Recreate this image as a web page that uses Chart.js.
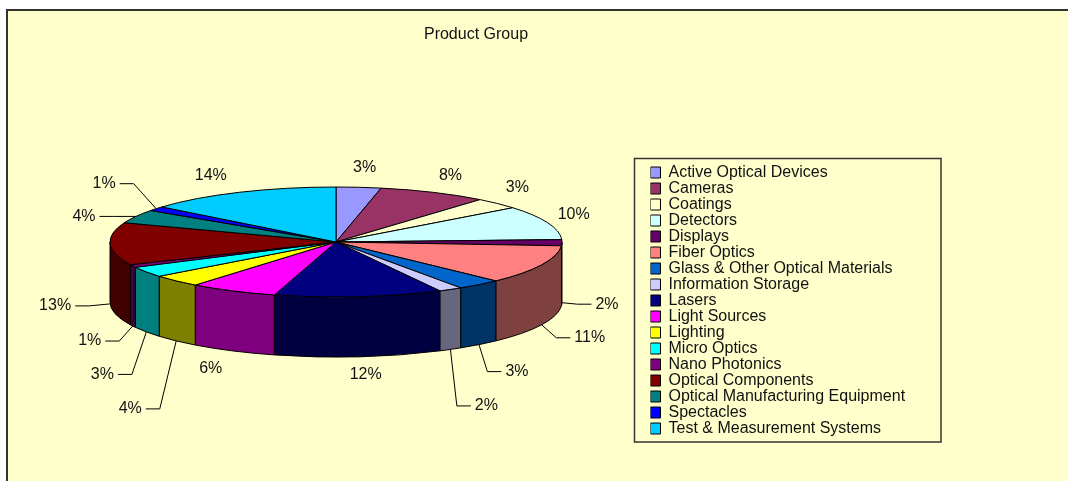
<!DOCTYPE html>
<html>
<head>
<meta charset="utf-8">
<title>Product Group</title>
<script src="https://cdn.jsdelivr.net/npm/chart.js@4"></script>
<style>
  html, body { margin: 0; padding: 0; background: #ffffff; }
  canvas { display: block; }
</style>
</head>
<body>
<canvas id="pieChart" width="1068" height="481"></canvas>
<script>
var categories = ["Active Optical Devices", "Cameras", "Coatings", "Detectors", "Displays", "Fiber Optics", "Glass & Other Optical Materials", "Information Storage", "Lasers", "Light Sources", "Lighting", "Micro Optics", "Nano Photonics", "Optical Components", "Optical Manufacturing Equipment", "Spectacles", "Test & Measurement Systems"];
var shares = [3.2, 7.8, 3.3, 10, 1.8, 11.4, 3.2, 1.7, 12, 6.3, 3.6, 3.1, 0.8, 12.5, 4, 1.3, 14];
var shareLabels = ["3%", "8%", "3%", "10%", "2%", "11%", "3%", "2%", "12%", "6%", "4%", "3%", "1%", "13%", "4%", "1%", "14%"];
var sliceColors = ["#9999FF", "#993366", "#FFFFCC", "#CCFFFF", "#660066", "#FF8080", "#0066CC", "#CCCCFF", "#000080", "#FF00FF", "#FFFF00", "#00FFFF", "#800080", "#800000", "#008080", "#0000FF", "#00CCFF"];

// label centre, relative to the point on the rim under the middle of the slice
var labelOffsets = [[6, -19.5], [17, -17], [20, -15.5], [26, -8], [45, 1.5], [48, 13], [38, 27], [36, 56.5], [7, 18], [-22, 18], [-46, 68], [-44, 42.5], [-43, 15], [-55, 2], [-52, 0], [-52, -25], [-29, -17]];
var hasLeader = [false, false, false, false, true, true, true, true, false, false, true, true, true, true, true, true, false];

var PIE_RADIUS = 226;
var PIE_FLATTEN = 55 / 226;
var PIE_DEPTH = 60;
var FONT = "'Liberation Sans', Arial, sans-serif";
var TEXT_COLOR = "#111111";
var LEGEND_FRAME = { x: 634.5, y: 158.5, w: 306.5, h: 283.5 };

function halfShade(hex) {
  var n = parseInt(hex.slice(1), 16);
  return "rgb(" + ((n >> 16) >> 1) + "," + (((n >> 8) & 255) >> 1) + "," + ((n & 255) >> 1) + ")";
}

var pie3d = {
  id: "pie3d",

  // paper colour with the dark top and left edge
  beforeDraw: function (chart) {
    var ctx = chart.ctx;
    ctx.save();
    ctx.fillStyle = "#ffffff";
    ctx.fillRect(0, 0, chart.width, chart.height);
    ctx.fillStyle = "#FFFFCC";
    ctx.fillRect(6, 9, chart.width - 6, chart.height - 9);
    ctx.fillStyle = "#333333";
    ctx.fillRect(6, 9, chart.width - 6, 2);
    ctx.fillRect(6, 9, 2, chart.height - 9);
    ctx.restore();
  },

  // legend and title do not sit where the layout would put them
  afterLayout: function (chart) {
    var legend = chart.legend;
    legend.left = 650.5;
    legend.right = legend.left + legend.width;
    legend.top = 164.5;
    legend.bottom = legend.top + legend.height;
    chart.titleBlock.left = 376;
    chart.titleBlock.right = 576;
  },

  // draw slices flattened, side wall first
  beforeDatasetDraw: function (chart, args) {
    var ctx = chart.ctx;
    var arcs = args.meta.data;
    ctx.save();
    ctx.lineJoin = "round";
    ctx.strokeStyle = "#000000";
    ctx.lineWidth = 1;

    arcs.forEach(function (arc) {
      var ry = arc.outerRadius * PIE_FLATTEN;
      var a0 = Math.max(arc.startAngle, 0);
      var a1 = Math.min(arc.endAngle, Math.PI);
      if (a1 <= a0) return;
      ctx.beginPath();
      ctx.ellipse(arc.x, arc.y, arc.outerRadius, ry, 0, a0, a1);
      ctx.ellipse(arc.x, arc.y + PIE_DEPTH, arc.outerRadius, ry, 0, a1, a0, true);
      ctx.closePath();
      ctx.fillStyle = halfShade(arc.options.backgroundColor);
      ctx.fill();
      ctx.stroke();
    });

    arcs.forEach(function (arc) {
      ctx.beginPath();
      ctx.moveTo(arc.x, arc.y);
      ctx.ellipse(arc.x, arc.y, arc.outerRadius, arc.outerRadius * PIE_FLATTEN, 0, arc.startAngle, arc.endAngle);
      ctx.closePath();
      ctx.fillStyle = arc.options.backgroundColor;
      ctx.fill();
      ctx.stroke();
    });

    ctx.restore();
    return false;
  },

  afterDatasetsDraw: function (chart) {
    var ctx = chart.ctx;
    var arcs = chart.getDatasetMeta(0).data;
    ctx.save();

    // percent labels + leader lines
    ctx.font = "16px " + FONT;
    ctx.textAlign = "center";
    ctx.textBaseline = "middle";
    arcs.forEach(function (arc, i) {
      var mid = (arc.startAngle + arc.endAngle) / 2;
      var rimX = arc.x + arc.outerRadius * Math.cos(mid);
      var rimY = arc.y + arc.outerRadius * PIE_FLATTEN * Math.sin(mid);
      if (Math.sin(mid) > -0.02) rimY += PIE_DEPTH;
      var tx = rimX + labelOffsets[i][0];
      var ty = rimY + labelOffsets[i][1];
      if (hasLeader[i]) {
        var side = tx > rimX ? -1 : 1;
        var endX = tx + side * (ctx.measureText(shareLabels[i]).width / 2 + 4);
        ctx.beginPath();
        ctx.moveTo(rimX, rimY);
        ctx.lineTo(endX + side * 14, ty);
        ctx.lineTo(endX, ty);
        ctx.strokeStyle = "#000000";
        ctx.lineWidth = 1;
        ctx.stroke();
      }
      ctx.fillStyle = TEXT_COLOR;
      ctx.fillText(shareLabels[i], tx, ty);
    });

    // legend frame
    ctx.strokeStyle = "#333333";
    ctx.lineWidth = 1.5;
    ctx.strokeRect(LEGEND_FRAME.x, LEGEND_FRAME.y, LEGEND_FRAME.w, LEGEND_FRAME.h);
    ctx.restore();
  },
};

var _pieChart = new Chart(document.getElementById("pieChart"), {
  type: "pie",
  data: {
    labels: categories,
    datasets: [
      {
        data: shares,
        backgroundColor: sliceColors,
        borderColor: "#000000",
        borderWidth: 1,
      },
    ],
  },
  plugins: [pie3d],
  options: {
    responsive: false,
    animation: false,
    radius: PIE_RADIUS,
    layout: { padding: { left: 0, right: 396, top: 0, bottom: 41.6 } },
    plugins: {
      tooltip: { enabled: false },
      title: {
        display: true,
        text: "Product Group",
        color: TEXT_COLOR,
        font: { family: FONT, size: 16, weight: "normal", lineHeight: 1.2 },
        padding: { top: 25.4, bottom: 0 },
      },
      legend: {
        display: true,
        position: "chartArea",
        align: "start",
        labels: {
          color: TEXT_COLOR,
          font: { family: FONT, size: 16 },
          boxWidth: 10,
          boxHeight: 11,
          padding: 0,
        },
      },
    },
  },
});
</script>
</body>
</html>
